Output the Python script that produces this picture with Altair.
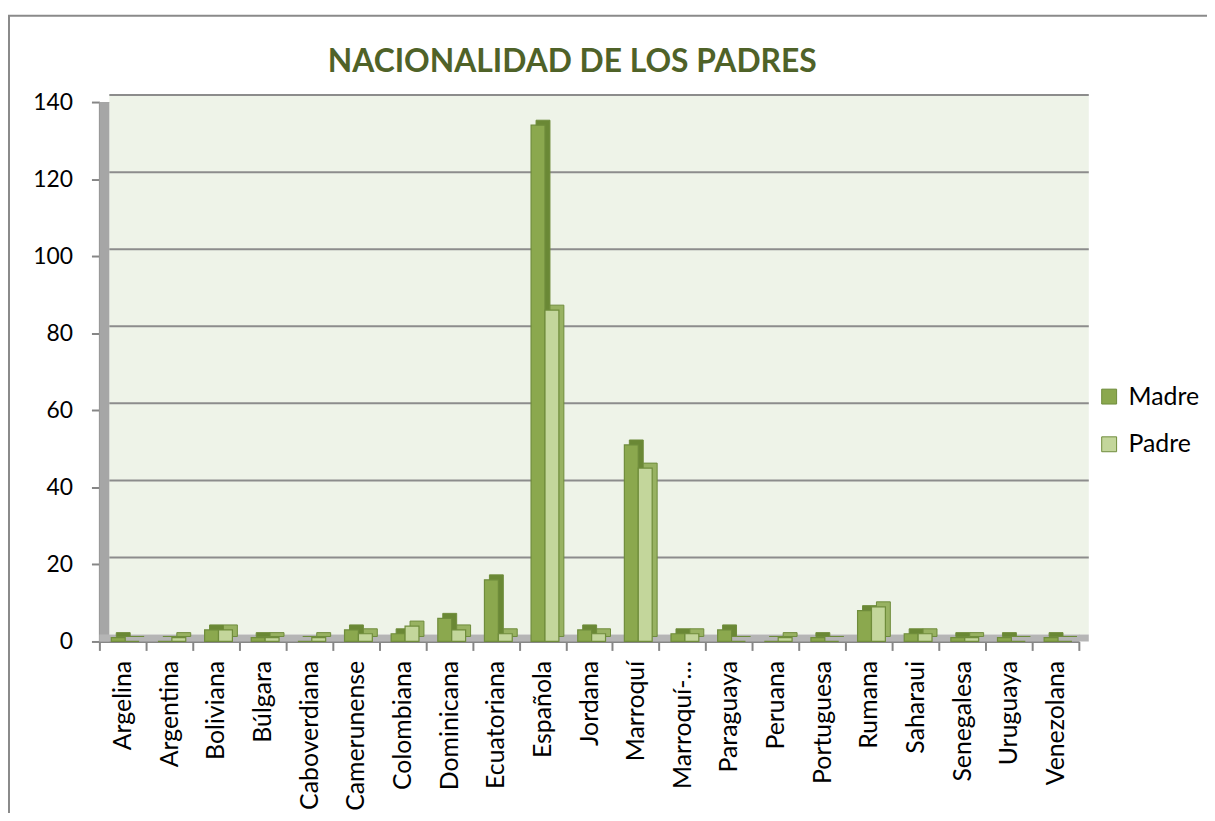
import altair as alt
import pandas as pd

# ---------------- data ----------------
nacionalidades = ["Argelina", "Argentina", "Boliviana", "Búlgara", "Caboverdiana",
                  "Camerunense", "Colombiana", "Dominicana", "Ecuatoriana", "Española",
                  "Jordana", "Marroquí", "Marroquí-…", "Paraguaya", "Peruana",
                  "Portuguesa", "Rumana", "Saharaui", "Senegalesa", "Uruguaya", "Venezolana"]
madre = [1, 0, 3, 1, 0, 3, 2, 6, 16, 134, 3, 51, 2, 3, 0, 1, 8, 2, 1, 1, 1]
padre = [0, 1, 3, 1, 1, 2, 4, 3, 2, 86, 2, 45, 2, 0, 1, 0, 9, 2, 1, 0, 0]
series = ["Madre", "Padre"]
y_ticks = [0, 20, 40, 60, 80, 100, 120, 140]
title_text = "NACIONALIDAD DE LOS PADRES"

rows = []
for i, c in enumerate(nacionalidades):
    rows.append({"cat": c, "serie": "Madre", "valor": madre[i]})
    rows.append({"cat": c, "serie": "Padre", "valor": padre[i]})
df = pd.DataFrame(rows)
grid_df = pd.DataFrame({"valor": y_ticks[1:]})
one = pd.DataFrame({"k": [0]})

# ---------------- layout ----------------
W, H = 986, 543
DEPTH = 5
G0 = 12      # start of the bar group inside each category cell
GW = 28      # width of the two front faces together
FONT = "Lato"

front_cols = ["#8BA84E", "#C3D69B"]
side_cols = ["#6A8835", "#98B262"]
edge = "#6F8C3B"

x_axis = alt.Axis(title=None, labelAngle=270, labelFont=FONT, labelFontSize=25,
                  labelColor="black", tickBand="extent", tickSize=9,
                  tickColor="#868686", tickWidth=2, domainColor="#868686",
                  domainWidth=2, labelPadding=10, grid=False)
y_axis = alt.Axis(title=None, values=y_ticks, labelFont=FONT, labelFontSize=23,
                  labelColor="black", tickSize=8, tickColor="#868686", tickWidth=2,
                  domainColor="#868686", domainWidth=2, labelPadding=19, grid=False)

x_enc = alt.X("cat:N", sort=nacionalidades,
              scale=alt.Scale(paddingInner=0, paddingOuter=0), axis=x_axis)
y_enc = alt.Y("valor:Q", scale=alt.Scale(domain=[0, 140], nice=False), axis=y_axis)

base = alt.Chart(df)

# back (3D side) bars
back = base.mark_bar(yOffset=-DEPTH, stroke=edge, strokeWidth=1).encode(
    x=x_enc, y=y_enc,
    xOffset=alt.XOffset("serie:N", sort=series,
                        scale=alt.Scale(range=[G0 + DEPTH, G0 + GW + DEPTH],
                                        paddingInner=0, paddingOuter=0)),
    color=alt.Color("serie:N", sort=series,
                    scale=alt.Scale(domain=series, range=side_cols), legend=None),
)

front = base.mark_bar(stroke=edge, strokeWidth=1.2).encode(
    x=x_enc, y=y_enc,
    xOffset=alt.XOffset("serie:N", sort=series,
                        scale=alt.Scale(range=[G0, G0 + GW],
                                        paddingInner=0, paddingOuter=0)),
    color=alt.Color("serie:N", sort=series,
                    scale=alt.Scale(domain=series, range=front_cols),
                    legend=alt.Legend(title=None, orient="none", legendX=1004,
                                      legendY=284, symbolType="square",
                                      symbolSize=225, symbolStrokeColor=edge,
                                      symbolStrokeWidth=1, labelFont=FONT,
                                      labelFontSize=25, labelColor="black",
                                      rowPadding=22, labelOffset=7, padding=0)),
)

# decorations: back wall, side wall, floor, gridlines, frame
panel = alt.Chart(one).mark_rect(color="#EEF3E8").encode(
    x=alt.value(10), x2=alt.value(W + 10), y=alt.value(-DEPTH - 2), y2=alt.value(H - DEPTH - 2))
wall = alt.Chart(one).mark_rect(color="#A6A6A6").encode(
    x=alt.value(0), x2=alt.value(10), y=alt.value(0), y2=alt.value(H))
floor = alt.Chart(one).mark_rect(color="#B5B5B5").encode(
    x=alt.value(0), x2=alt.value(W + 10), y=alt.value(H - DEPTH - 2), y2=alt.value(H))
grid = alt.Chart(grid_df).mark_rule(color="#8C8C8C", strokeWidth=2, yOffset=-DEPTH - 2).encode(
    y=alt.Y("valor:Q", scale=alt.Scale(domain=[0, 140], nice=False), axis=y_axis),
    x=alt.value(10), x2=alt.value(W + 10))
frame = alt.Chart(one).mark_rect(fill="white", fillOpacity=0, stroke="#8A8A8A",
                                 strokeWidth=2).encode(
    x=alt.value(-91), x2=alt.value(1200), y=alt.value(-87), y2=alt.value(900))

chart = alt.layer(panel, wall, floor, grid, back, front, frame).resolve_scale(
    color="independent", xOffset="independent"
).properties(
    width=W, height=H,
    title=alt.TitleParams(title_text, font=FONT, fontSize=32, fontWeight="bold",
                          color="#4F6228", anchor="middle", frame="group",
                          baseline="alphabetic", offset=-90, dx=-17),
    autosize=alt.AutoSizeParams(type="none"),
    padding={"left": 92, "top": 92, "right": 129, "bottom": 170},
).configure_view(stroke=None).configure(background="white")

chart.save("out.html", embed_options={"renderer": "svg", "actions": False})
